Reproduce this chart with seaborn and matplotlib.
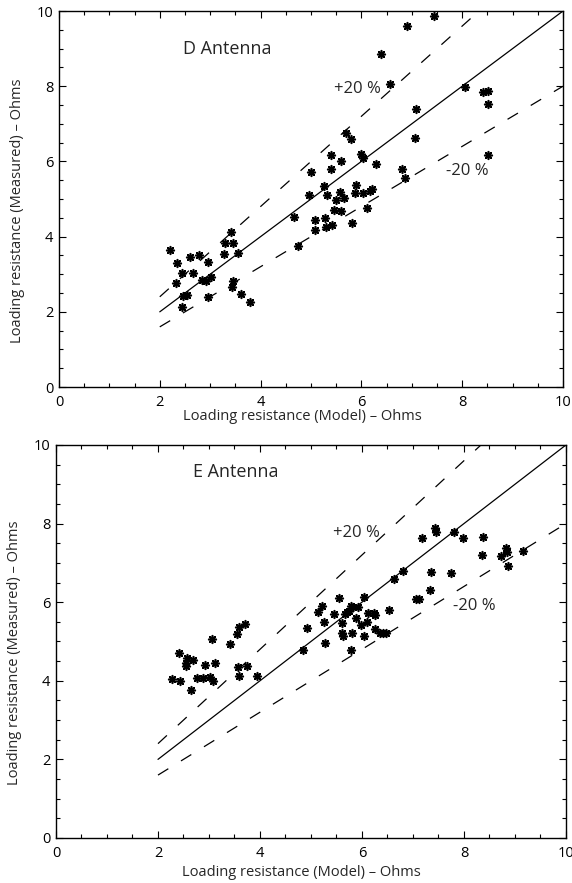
"""Loading resistance: measured vs model for the D and E antennas."""

import matplotlib

matplotlib.use("Agg", force=True)
import matplotlib.pyplot as plt
from matplotlib.ticker import MultipleLocator
import numpy as np
import pandas as pd
import seaborn as sns

# D antenna (model, measured) in Ohms
d_model = [2.20, 2.35, 2.60, 2.78, 2.96, 2.45, 2.66, 2.32, 2.83, 2.91, 3.01, 2.47,
           2.55, 2.96, 2.45, 3.41, 3.29, 3.45, 3.28, 3.56, 3.46, 3.44, 3.61, 3.80,
           4.66, 5.08, 5.08, 4.74, 5.69, 5.79, 7.06, 5.40, 5.99, 6.03, 5.59, 6.29,
           5.01, 5.40, 6.80, 6.87, 5.25, 5.89, 4.96, 5.32, 5.58, 5.87, 6.03, 6.22,
           6.18, 5.49, 5.65, 5.46, 5.59, 6.12, 5.28, 5.29, 5.41, 5.81, 7.45, 6.90,
           6.38, 6.57, 8.06, 8.41, 8.52, 8.52, 7.08, 8.51]
d_measured = [3.64, 3.29, 3.47, 3.50, 3.32, 3.02, 3.02, 2.77, 2.85, 2.81, 2.93, 2.43,
              2.46, 2.40, 2.14, 4.13, 3.82, 3.82, 3.55, 3.57, 2.82, 2.67, 2.47, 2.27,
              4.53, 4.44, 4.18, 3.75, 6.75, 6.59, 6.61, 6.17, 6.21, 6.08, 6.01, 5.92,
              5.73, 5.79, 5.81, 5.55, 5.35, 5.37, 5.12, 5.12, 5.19, 5.17, 5.17, 5.28,
              5.22, 4.97, 5.04, 4.72, 4.68, 4.77, 4.50, 4.25, 4.31, 4.35, 9.87, 9.60,
              8.87, 8.06, 7.99, 7.85, 7.86, 7.52, 7.39, 6.18]

# E antenna (model, measured) in Ohms
e_model = [2.41, 2.56, 2.54, 2.54, 2.69, 2.92, 3.12, 2.28, 2.44, 2.77, 2.88, 3.02,
           3.07, 2.65, 3.06, 3.42, 3.54, 3.58, 3.71, 3.56, 3.75, 3.59, 3.95,
           7.33, 7.06, 7.12, 5.54, 6.04, 5.21, 5.14, 5.45, 5.78, 5.83, 5.92, 5.70,
           5.75, 5.67, 6.12, 6.24, 6.25, 6.53, 5.26, 5.60, 5.88, 5.99, 6.09, 4.93,
           5.60, 5.62, 5.80, 6.04, 6.25, 6.35, 6.42, 6.48, 5.27, 5.78, 4.84,
           7.43, 7.46, 7.80, 7.17, 7.99, 8.37, 8.82, 8.84, 8.36, 8.72, 9.16, 8.86,
           6.81, 6.63, 7.35, 7.74]
e_measured = [4.70, 4.57, 4.44, 4.38, 4.53, 4.40, 4.46, 4.05, 4.00, 4.08, 4.08, 4.10,
              4.00, 3.77, 5.05, 4.94, 5.19, 5.36, 5.45, 4.34, 4.38, 4.12, 4.12,
              6.31, 6.07, 6.07, 6.10, 6.14, 5.90, 5.76, 5.69, 5.90, 5.88, 5.87, 5.76,
              5.78, 5.71, 5.73, 5.73, 5.67, 5.80, 5.50, 5.48, 5.59, 5.42, 5.50, 5.33,
              5.22, 5.14, 5.22, 5.14, 5.32, 5.21, 5.22, 5.22, 4.97, 4.78, 4.78,
              7.88, 7.79, 7.79, 7.64, 7.64, 7.67, 7.37, 7.28, 7.21, 7.18, 7.30, 6.93,
              6.80, 6.60, 6.76, 6.73]

line_x = [2.0, 10.0]
factors = [1.0, 1.2, 0.8]
panel_titles = ["D Antenna", "E Antenna"]

sns.set_theme(style="ticks")
plt.rcParams["font.family"] = ["Open Sans", "DejaVu Sans"]
plt.rcParams.update({
    "xtick.direction": "in", "ytick.direction": "in",
    "xtick.top": True, "ytick.right": True,
    "xtick.major.size": 5, "ytick.major.size": 5,
    "xtick.minor.size": 3, "ytick.minor.size": 3,
    "xtick.major.width": 0.8, "ytick.major.width": 0.8,
    "xtick.minor.width": 0.8, "ytick.minor.width": 0.8,
    "axes.linewidth": 1.0,
    "xtick.color": "black", "ytick.color": "black",
    "axes.edgecolor": "black",
})

fig = plt.figure(figsize=(5.72, 8.83), dpi=100)
ax_d = fig.add_axes([0.1031, 0.5617, 0.8811, 0.4258])
ax_e = fig.add_axes([0.0979, 0.0510, 0.8916, 0.4451])

panels = [
    (ax_d, d_model, d_measured, (2.46, 9.0), (5.46, 7.92), (7.67, 5.75)),
    (ax_e, e_model, e_measured, (2.68, 9.32), (5.44, 7.77), (7.79, 5.89)),
]

for (ax, mx, my, tpos, ppos, mpos), title in zip(panels, panel_titles):
    df = pd.DataFrame({"model": mx, "measured": my})
    for f in factors:
        ref = pd.DataFrame({"x": line_x, "y": np.array(line_x) * f})
        style = "-" if f == 1.0 else (0, (9.7, 11.9))
        sns.lineplot(data=ref, x="x", y="y", ax=ax, color="black",
                     linewidth=0.9, linestyle=style)
    sns.scatterplot(data=df, x="model", y="measured", ax=ax, color="black",
                    marker=(8, 2, 0), s=30, linewidth=1.2, edgecolor="black")
    ax.set_xlim(0, 10)
    ax.set_ylim(0, 10)
    ax.xaxis.set_major_locator(MultipleLocator(2))
    ax.yaxis.set_major_locator(MultipleLocator(2))
    ax.xaxis.set_minor_locator(MultipleLocator(0.5))
    ax.yaxis.set_minor_locator(MultipleLocator(0.5))
    ax.tick_params(labelsize=10.5)
    ax.tick_params(axis="x", pad=6)
    ax.tick_params(axis="y", pad=4)
    ax.set_xlabel("Loading resistance (Model) \u2013 Ohms", fontsize=10.5)
    ax.set_ylabel("Loading resistance (Measured) \u2013 Ohms", fontsize=10.5)
    ax.xaxis.label.set_va("center")
    ax.text(*tpos, title, fontsize=13, ha="left", va="center")
    ax.text(*ppos, "+20 %", fontsize=12, ha="left", va="center")
    ax.text(*mpos, "-20 %", fontsize=12, ha="left", va="center")

# label placement, in axes fractions
ax_d.xaxis.set_label_coords(0.482, -0.078)
ax_d.yaxis.set_label_coords(-0.068, 0.47)
ax_e.xaxis.set_label_coords(0.482, -0.087)
ax_e.yaxis.set_label_coords(-0.067, 0.47)

fig.savefig("out.png", dpi=100)
plt.close(fig)
